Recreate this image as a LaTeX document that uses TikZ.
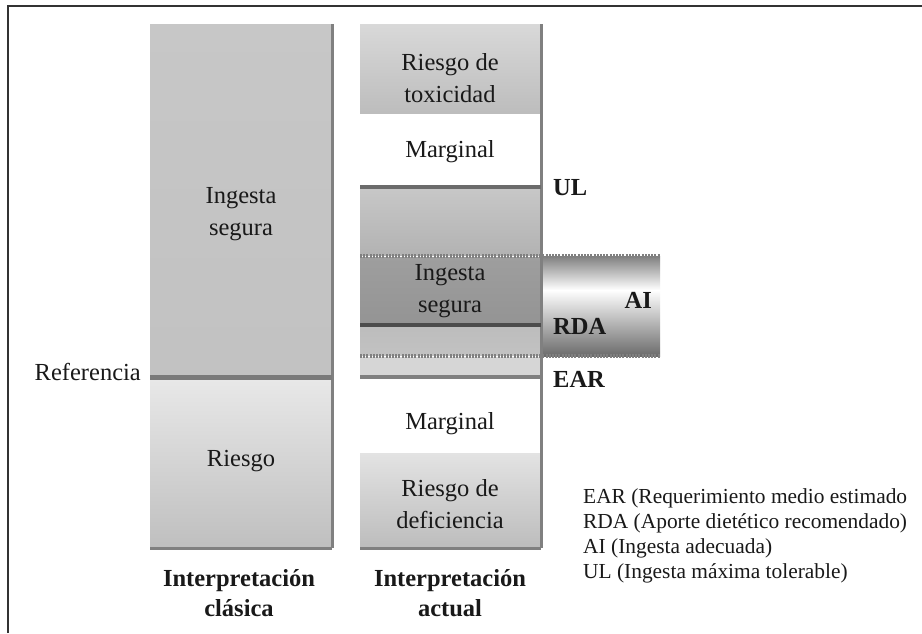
\documentclass[tikz,border=0pt]{standalone}
\usepackage{fontspec}
\setmainfont{Liberation Serif}
\begin{document}
\begin{tikzpicture}[x=1pt,y=-1pt,
  lbl/.style={font=\fontsize{24.5}{32}\selectfont, text=black!90, align=center, inner sep=0pt},
  blbl/.style={font=\bfseries\fontsize{24.5}{30}\selectfont, text=black!90, align=center, inner sep=0pt},
  leg/.style={font=\fontsize{21.4}{25}\selectfont, text=black!90, anchor=west, inner sep=0pt},
  solidline/.style={line width=4pt, draw=black!58},
  axisline/.style={line width=3pt, draw=black!50},
  dotline/.style={line width=4pt, draw=black!50, dash pattern=on 2pt off 1.2pt}
]
\useasboundingbox (0,0) rectangle (922,633);
\fill[white] (0,0) rectangle (922,633);
% frame
\draw[line width=2pt, draw=black!80] (8,633) -- (8,6) -- (922,6);

% ---------- left column ----------
\shade[top color=black!22, middle color=black!42, bottom color=black!24] (150,24) rectangle (332,375);
\shade[top color=black!9, bottom color=black!25] (150,379) rectangle (332,547);
\coordinate (lt) at (332,24);
\coordinate (lb) at (332,548);
\coordinate (lbl) at (150,548);
\coordinate (refl) at (150,377);
\coordinate (refr) at (332,377);
\draw[axisline] (lt) -- (lb);
\draw[axisline] (lbl) -- (lb);
\draw[line width=5pt, draw=black!52] (refl) -- (refr);

\node[lbl] (segl) at (241,214) {Ingesta\\segura};
\node[lbl] (riesgo) at (241,461) {Riesgo};
\node[lbl, anchor=east] (ref) at (141,372) {Referencia};

% ---------- right column ----------
\shade[top color=black!15, bottom color=black!26] (360,24) rectangle (540,113);
\shade[top color=black!22, bottom color=black!30] (360,189) rectangle (540,255);
\shade[top color=black!38, bottom color=black!42] (360,257) rectangle (540,324);
\shade[top color=black!26, bottom color=black!24] (360,327) rectangle (540,355);
\fill[black!16] (360,357) rectangle (540,376);
\shade[top color=black!11, bottom color=black!26] (360,453) rectangle (540,547);

% AI box
\shade[top color=black!50, bottom color=white] (543,256) rectangle (660,290);
\shade[top color=white, bottom color=black!58] (543,290) rectangle (660,356);

\coordinate (rt) at (541,24);
\coordinate (rb) at (541,548);
\coordinate (rbl) at (360,548);
\coordinate (ull) at (360,187);
\coordinate (ulr) at (541,187);
\coordinate (rdal) at (360,325);
\coordinate (rdar) at (541,325);
\coordinate (earl) at (360,377);
\coordinate (earr) at (541,377);
\coordinate (d1l) at (360,256);
\coordinate (d1r) at (660,256);
\coordinate (d2l) at (360,356);
\coordinate (d2r) at (660,356);

\draw[dotline] (d1l) -- (d1r);
\draw[dotline] (d2l) -- (d2r);
\draw[axisline] (rt) -- (rb);
\draw[axisline] (rbl) -- (rb);
\draw[solidline] (ull) -- (ulr);
\draw[line width=4pt, draw=black!70] (rdal) -- (rdar);
\draw[line width=3.5pt, draw=black!50] (earl) -- (earr);

\node[lbl] (tox) at (450,78) {Riesgo de\\toxicidad};
\node[lbl] (marg1) at (450,152) {Marginal};
\node[lbl] (segr) at (450,291) {Ingesta\\segura};
\node[lbl] (marg2) at (450,424) {Marginal};
\node[lbl] (def) at (450,504) {Riesgo de\\deficiencia};

\node[blbl, anchor=west] (ul) at (553,188) {UL};
\node[blbl, anchor=east] (ai) at (652,300) {AI};
\node[blbl, anchor=west] (rda) at (553,326) {RDA};
\node[blbl, anchor=west] (ear) at (553,379) {EAR};

% titles
\node[blbl] (t1) at (239,593) {Interpretación\\clásica};
\node[blbl] (t2) at (450,593) {Interpretación\\actual};

% legend
\node[leg] (l1) at (583,498) {EAR (Requerimiento medio estimado};
\node[leg] (l2) at (583,523) {RDA (Aporte dietético recomendado)};
\node[leg] (l3) at (583,548) {AI (Ingesta adecuada)};
\node[leg] (l4) at (583,573) {UL (Ingesta máxima tolerable)};
\end{tikzpicture}
\end{document}
